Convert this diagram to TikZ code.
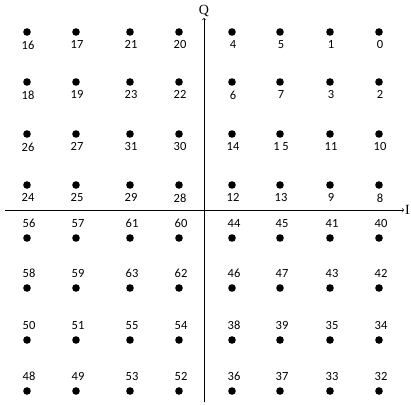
\documentclass[tikz,border=0pt]{standalone}
\usepackage{fontspec}
\setmainfont{Carlito}
\newfontfamily\axisfont{Liberation Serif}
\usetikzlibrary{positioning}

\begin{document}
\begin{tikzpicture}[x=1pt, y=-1pt,
  dot/.style={circle, fill=black, inner sep=0pt, minimum size=7.6pt},
  lab/.style={font=\fontsize{12.5}{12.5}\selectfont, inner sep=0pt}]
\useasboundingbox (0,0) rectangle (411,404);

% Axes
\coordinate (west) at (5,210);
\coordinate (east) at (404,210);
\coordinate (south) at (204,402);
\coordinate (north) at (204,18);
\draw[->, semithick] (west) -- (east);
\draw[->, semithick] (south) -- (north);
\node (Ilab) [right=0pt of east, inner sep=1pt, font=\axisfont\fontsize{14}{14}\selectfont] {I};
\node (Qlab) [above=0pt of north, inner sep=1pt, font=\axisfont\fontsize{14}{14}\selectfont] {Q};

% Upper half: labels below the points
\foreach \r/\yy/\labs in {1/32/{16,17,21,20,4,5,1,0},
                          2/82/{18,19,23,22,6,7,3,2},
                          3/134/{26,27,31,30,14,1 5,11,10},
                          4/185/{24,25,29,28,12,13,9,8}}{
  \foreach \lab [count=\c] in \labs {
    \pgfmathsetmacro\xx{{27,76,130,179,232,280,330,379}[\c-1]}
    \node (p-\r-\c) [dot] at (\xx,\yy) {};
    \node (l-\r-\c) [lab, below=4.5pt of p-\r-\c, xshift=1pt] {\lab};
  }
}

% Lower half: labels above the points
\foreach \r/\yy/\labs in {5/238/{56,57,61,60,44,45,41,40},
                          6/288/{58,59,63,62,46,47,43,42},
                          7/340/{50,51,55,54,38,39,35,34},
                          8/391/{48,49,53,52,36,37,33,32}}{
  \foreach \lab [count=\c] in \labs {
    \pgfmathsetmacro\xx{{27,76,130,179,232,280,330,379}[\c-1]}
    \node (p-\r-\c) [dot] at (\xx,\yy) {};
    \node (l-\r-\c) [lab, above=6.5pt of p-\r-\c, xshift=2pt] {\lab};
  }
}

\end{tikzpicture}
\end{document}
